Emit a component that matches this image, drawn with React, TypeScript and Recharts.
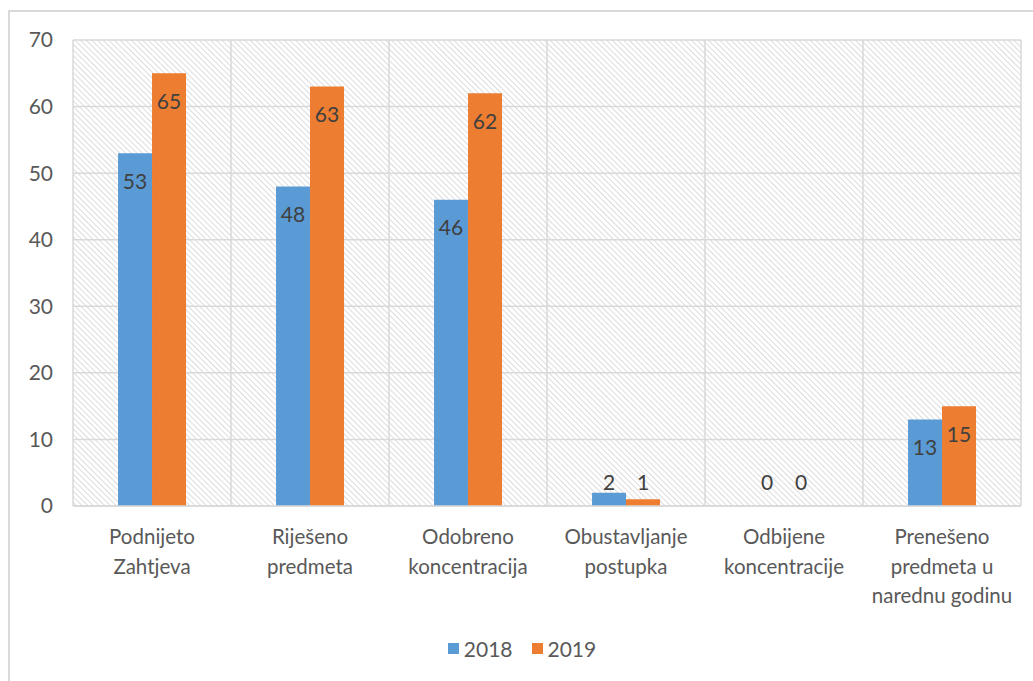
import { Bar, BarChart, CartesianGrid, LabelList, Legend, XAxis, YAxis } from 'recharts';

// Predmeti koncentracija, 2018 vs 2019
const categories = [
  'Podnijeto\nZahtjeva',
  'Riješeno\npredmeta',
  'Odobreno\nkoncentracija',
  'Obustavljanje\npostupka',
  'Odbijene\nkoncentracije',
  'Prenešeno\npredmeta u\nnarednu godinu',
];
const values2018 = [53, 48, 46, 2, 0, 13];
const values2019 = [65, 63, 62, 1, 0, 15];
const yTicks = [0, 10, 20, 30, 40, 50, 60, 70];
const boundaryTicks = [0, 1, 2, 3, 4, 5, 6];

const data = categories.map((name, i) => ({
  name,
  idx: i + 0.5,
  y2018: values2018[i],
  y2019: values2019[i],
}));

const FONT = 'Lato, "Open Sans", sans-serif';
const TEXT = '#595959';
const GRID = '#d9d9d9';

function CategoryTick(props: any) {
  const { x, y, payload } = props;
  const lines = String(payload.value).split('\n');
  return (
    <text x={x} y={y} textAnchor="middle" fill={TEXT} fontSize={20.5} fontFamily={FONT}>
      {lines.map((l, i) => (
        <tspan key={i} x={x} dy={i === 0 ? 30 : 29.5}>
          {l}
        </tspan>
      ))}
    </text>
  );
}

function BarValue(props: any) {
  const { x, y, width, height, value } = props;
  const base = y + height;
  const cy = Math.abs(height) < 40 ? base - 25 : y + 27;
  return (
    <text
      x={x + width / 2}
      y={cy}
      textAnchor="middle"
      dominantBaseline="central"
      fill="#404040"
      fontSize={21}
      fontFamily={FONT}
    >
      {value}
    </text>
  );
}

function LegendContent(props: any) {
  const items = props.payload ?? [];
  return (
    <div style={{ display: 'flex', justifyContent: 'center', alignItems: 'center', height: 30 }}>
      {items.map((it: any, i: number) => (
        <span
          key={i}
          style={{ display: 'flex', alignItems: 'center', marginLeft: i === 0 ? 0 : 19 }}
        >
          <span style={{ width: 11, height: 11, background: it.color, marginRight: 5 }} />
          <span style={{ color: TEXT, fontSize: 21, fontFamily: FONT }}>{it.value}</span>
        </span>
      ))}
    </div>
  );
}

export default function App() {
  return (
    <div style={{ position: 'fixed', left: 0, top: 0, width: 1033, height: 681, overflow: 'hidden', background: '#fff' }}>
      <svg width={0} height={0} style={{ position: 'absolute' }}>
        <defs>
          <pattern id="hatch" width={4} height={4} patternUnits="userSpaceOnUse" patternTransform="rotate(-45)">
            <rect width={4} height={4} fill="#ffffff" />
            <line x1={0} y1={0} x2={0} y2={4} stroke="#c9c9c9" strokeWidth={1.3} />
          </pattern>
        </defs>
      </svg>
      <div
        style={{
          position: 'absolute',
          left: 8,
          top: 10,
          width: 1100,
          height: 720,
          border: '2px solid #d9d9d9',
          boxSizing: 'border-box',
        }}
      />
      <div style={{ position: 'absolute', left: 0, top: 0 }}>
        <BarChart
          width={1033}
          height={681}
          data={data}
          margin={{ top: 40, right: 12, bottom: 18, left: 23 }}
          barCategoryGap="28.5%"
          barGap={0}
        >
          <CartesianGrid
            xAxisId="grid"
            fill="url(#hatch)"
            fillOpacity={1}
            stroke={GRID}
            strokeWidth={1.5}
          />
          <XAxis
            dataKey="name"
            interval={0}
            tickLine={false}
            axisLine={{ stroke: GRID, strokeWidth: 1.5 }}
            tick={<CategoryTick />}
            height={127}
          />
          <XAxis
            xAxisId="grid"
            type="number"
            dataKey="idx"
            domain={[0, 6]}
            ticks={boundaryTicks}
            hide
          />
          <YAxis
            domain={[0, 70]}
            ticks={yTicks}
            width={50}
            tickLine={false}
            axisLine={false}
            tickSize={0}
            tickMargin={20}
            tick={{ fill: TEXT, fontSize: 21, fontFamily: FONT }}
          />
          <Legend verticalAlign="bottom" height={30} content={<LegendContent />} />
          <Bar dataKey="y2018" name="2018" fill="#5B9BD5" minPointSize={0.01} isAnimationActive={false}>
            <LabelList dataKey="y2018" content={<BarValue />} />
          </Bar>
          <Bar dataKey="y2019" name="2019" fill="#ED7D31" minPointSize={0.01} isAnimationActive={false}>
            <LabelList dataKey="y2019" content={<BarValue />} />
          </Bar>
        </BarChart>
      </div>
    </div>
  );
}
